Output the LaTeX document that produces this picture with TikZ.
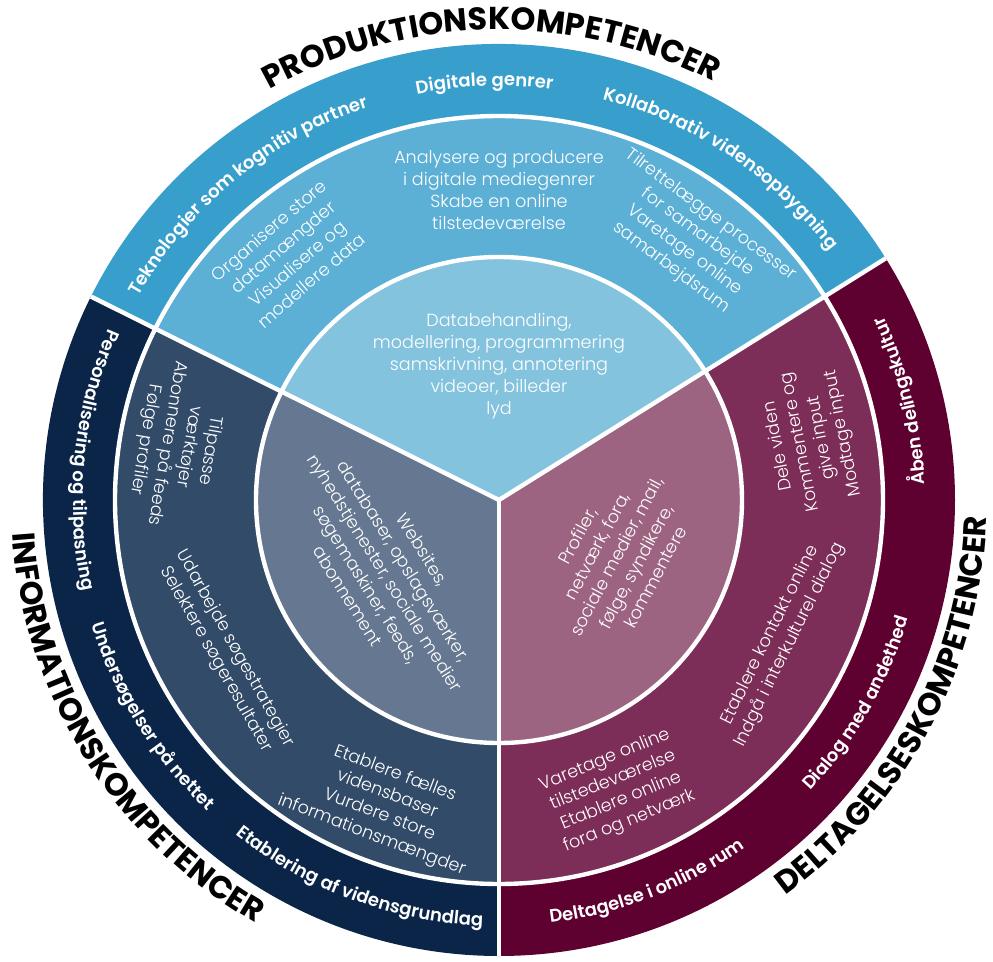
\documentclass[tikz,border=0pt]{standalone}
\usepackage{fontspec}
\setmainfont{Poppins}
\newfontface\lightface{Poppins Light}
\newfontface\semiface{Poppins SemiBold}
\usetikzlibrary{decorations.text}

\definecolor{blueout}{HTML}{389ECC}
\definecolor{bluemid}{HTML}{5CB0D6}
\definecolor{blueinn}{HTML}{84C3DE}
\definecolor{navyout}{HTML}{0A2548}
\definecolor{navymid}{HTML}{324B69}
\definecolor{navyinn}{HTML}{667891}
\definecolor{wineout}{HTML}{5E0030}
\definecolor{winemid}{HTML}{7D2E58}
\definecolor{wineinn}{HTML}{9C6480}

\tikzset{
	midtext/.style={text=white, align=center, inner sep=0pt, font=\fontsize{10}{12.5}\selectfont\lightface},
	gapline/.style={draw=white, line width=2.5pt},
}
\def\pieslice[#1](#2:#3:#4){\fill[#1] (0,0) -- (#2:#4) arc (#2:#3:#4) -- cycle;}
\def\arclabel[#1](#2:#3:#4)#5{\path[decorate, decoration={text along path, text align=center, text color=#1, text={#5}}] (#2:#4) arc (#2:#3:#4);}
\def\lblfont{\fontsize{10.3}{12}\selectfont\semiface}
\def\hdfont{\fontsize{18}{20}\selectfont\bfseries}

\begin{document}
\begin{tikzpicture}
		\useasboundingbox (-9.98,-9.22) rectangle (9.88,10.0);
		\coordinate (hub) at (0,0);
		
		%%%%% SECTORS %%%%%
		\pieslice[blueout](32:153.5:9.12)
		\pieslice[navyout](153.5:270:9.12)
		\pieslice[wineout](-90:32:9.12)
		\pieslice[bluemid](32:153.5:7.68)
		\pieslice[navymid](153.5:270:7.68)
		\pieslice[winemid](-90:32:7.68)
		\pieslice[blueinn](32:153.5:4.86)
		\pieslice[navyinn](153.5:270:4.86)
		\pieslice[wineinn](-90:32:4.86)
		
		\draw[gapline] (hub) circle (4.86);
		\draw[gapline] (hub) circle (7.68);
		\draw[gapline] (hub) -- (32:9.12);
		\draw[gapline] (hub) -- (153.5:9.12);
		\draw[gapline] (hub) -- (270:9.12);
		
		%%%%% INNER %%%%%
		\node[midtext] (prodhub) at (90:2.68) {Databehandling,\\modellering, programmering\\samskrivning, annotering\\videoer, billeder\\lyd};
		\node[midtext, rotate=-58] (infohub) at (212.6:2.7) {Websites,\\databaser, opslagsværker,\\nyhedstjenester, sociale medier\\søgemaskiner, feeds,\\abonnement};
		\node[midtext, rotate=62] (delhub) at (-25.6:2.6) {Profiler,\\netværk, fora,\\sociale medier, mail,\\følge, syndikere,\\kommentere};
		
		%%%%% MIDDLE %%%%%
		\node[midtext, rotate=40.5] (prodleft) at (130.5:6.44) {Organisere store\\datamængder\\Visualisere og\\modellere data};
		\node[midtext] (prodtop) at (90:6.2) {Analysere og producere\\i digitale mediegenrer\\Skabe en online\\tilstedeværelse};
		\node[midtext, rotate=-36.6] (prodright) at (53.4:6.44) {Tilrettelægge processer\\for samarbejde\\Varetage online\\samarbejdsrum};
		\node[midtext, rotate=-99.7] (infotop) at (170.3:6.52) {Tilpasse\\værktøjer\\Abonnere på feeds\\Følge profiler};
		\node[midtext, rotate=-60.6] (infomid) at (209.4:6.28) {Udarbejde søgestrategier\\Selektere søgeresultater};
		\node[midtext, rotate=-20.8] (infobot) at (249.2:6.52) {Etablere fælles\\vidensbaser\\Vurdere store\\informationsmængder};
		\node[midtext, rotate=22.1] (delbot) at (-67.9:6.28) {Varetage online\\tilstedeværelse\\Etablere online\\fora og netværk};
		\node[midtext, rotate=63.5] (delmid) at (-26.5:6.28) {Etablere kontakt online\\Indgå i interkulturel dialog};
		\node[midtext, rotate=101.2] (deltop) at (10.9:6.36) {Dele viden\\Kommentere og\\give input\\Modtage input};
		
		%%%%% OUTER RING %%%%%
		\arclabel[white](169.5:89.5:8.28){|\lblfont|Teknologier som kognitiv partner}
		\arclabel[white](122:62:8.28){|\lblfont|Digitale genrer}
		\arclabel[white](96.3:16.3:8.28){|\lblfont|Kollaborativ vidensopbygning}
		\arclabel[white](134.3:214.3:8.52){|\lblfont|Personalisering og tilpasning}
		\arclabel[white](171.9:251.9:8.52){|\lblfont|Undersøgelser på nettet}
		\arclabel[white](209.8:289.8:8.52){|\lblfont|Etablering af vidensgrundlag}
		\arclabel[white](-108.9:-28.9:8.52){|\lblfont|Deltagelse i online rum}
		\arclabel[white](-69.6:10.4:8.52){|\lblfont|Dialog med andethed}
		\arclabel[white](-26.2:53.8:8.52){|\lblfont|Åben delingskultur}
		
		%%%%% HEADINGS %%%%%
		\arclabel[black](141:41:9.4){|\hdfont|PRODUKTIONSKOMPETENCER}
		\arclabel[black](162:262:9.76){|\hdfont|INFORMATIONSKOMPETENCER}
		\arclabel[black](-78:22:9.76){|\hdfont|DELTAGELSESKOMPETENCER}
\end{tikzpicture}
\end{document}
